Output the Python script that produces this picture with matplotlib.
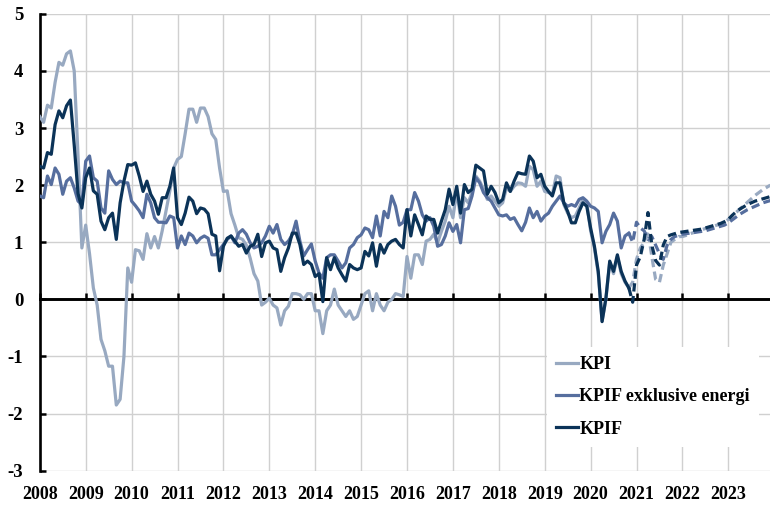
import numpy as np
import matplotlib
matplotlib.use("Agg")
import matplotlib.pyplot as plt

# --- data: annual % change, monthly from Jan 2008 ---
start_year = 2008

kpi = [
    3.2, 3.1, 3.4, 3.35, 3.8, 4.15, 4.1, 4.3, 4.35, 4.0, 2.5, 0.9,
    1.3, 0.8, 0.2, -0.1, -0.7, -0.9, -1.17, -1.17, -1.85, -1.75, -1.0, 0.55,
    0.3, 0.87, 0.85, 0.7, 1.15, 0.9, 1.1, 0.9, 1.2, 1.55, 1.9, 2.3,
    2.45, 2.5, 2.9, 3.33, 3.33, 3.1, 3.35, 3.35, 3.2, 2.9, 2.8, 2.3,
    1.89, 1.9, 1.5, 1.3, 1.08, 1.05, 0.95, 0.72, 0.45, 0.32, -0.1, -0.05,
    0.02, -0.1, -0.15, -0.45, -0.2, -0.12, 0.1, 0.1, 0.08, 0.0, 0.1, 0.1,
    -0.2, -0.2, -0.6, -0.2, -0.1, 0.18, -0.1, -0.2, -0.3, -0.2, -0.35, -0.3,
    -0.1, 0.1, 0.15, -0.2, 0.1, -0.1, -0.2, -0.05, 0.0, 0.1, 0.08, 0.05,
    0.75, 0.37, 0.78, 0.78, 0.61, 1.02, 1.05, 1.14, 0.99, 1.19, 1.37, 1.63,
    1.43, 1.89, 1.43, 1.78, 1.69, 1.87, 2.16, 2.07, 1.93, 1.75, 1.81, 1.72,
    1.63, 1.69, 1.95, 1.89, 1.98, 2.04, 2.03, 1.98, 2.33, 2.27, 1.98, 2.07,
    1.89, 1.87, 1.84, 2.16, 2.13, 1.66, 1.51, 1.43, 1.46, 1.6, 1.75, 1.69,
    1.2, 0.9, 0.45, -0.38, 0.0, 0.65, 0.45, 0.75, 0.45, 0.3, 0.2,
]
kpif_exkl = [
    1.81, 1.78, 2.16, 2.01, 2.3, 2.19, 1.84, 2.07, 2.13, 1.95, 1.72, 1.66,
    2.42, 2.51, 2.13, 2.07, 1.6, 1.51, 2.25, 2.1, 2.01, 2.07, 2.04, 2.04,
    1.72, 1.64, 1.55, 1.43, 1.84, 1.69, 1.43, 1.35, 1.35, 1.34, 1.46, 1.43,
    0.9, 1.11, 0.96, 1.16, 1.11, 0.99, 1.07, 1.11, 1.07, 0.78, 0.78, 0.87,
    0.96, 1.05, 1.11, 0.99, 1.16, 1.22, 1.14, 0.99, 0.9, 0.93, 0.99, 1.11,
    1.28, 1.16, 1.31, 1.05, 0.96, 1.02, 1.13, 1.37, 1.02, 0.76, 0.87, 0.97,
    0.67, 0.46, 0.37, 0.73, 0.78, 0.78, 0.67, 0.55, 0.64, 0.9, 0.96, 1.08,
    1.13, 1.25, 1.22, 1.08, 1.46, 1.11, 1.54, 1.43, 1.81, 1.63, 1.3, 1.35,
    1.57, 1.57, 1.87, 1.72, 1.48, 1.37, 1.43, 1.28, 0.93, 0.96, 1.11, 1.34,
    1.19, 1.31, 0.99, 1.57, 1.59, 1.81, 2.13, 2.04, 1.87, 1.78, 1.72, 1.6,
    1.48, 1.46, 1.48, 1.4, 1.43, 1.31, 1.2, 1.35, 1.6, 1.43, 1.54, 1.37,
    1.46, 1.51, 1.63, 1.72, 1.81, 1.69, 1.63, 1.66, 1.63, 1.75, 1.78, 1.72,
    1.63, 1.6, 1.54, 0.99, 1.19, 1.31, 1.51, 1.37, 0.9, 1.11, 1.16,
]
kpif = [
    2.33, 2.3, 2.57, 2.54, 3.06, 3.3, 3.18, 3.39, 3.49, 2.7, 1.85, 1.6,
    2.13, 2.3, 1.9, 1.84, 1.37, 1.22, 1.43, 1.51, 1.05, 1.69, 2.07, 2.36,
    2.35, 2.39, 2.16, 1.89, 2.07, 1.84, 1.72, 1.49, 1.78, 1.78, 1.98, 2.3,
    1.43, 1.31, 1.51, 1.79, 1.72, 1.5, 1.6, 1.58, 1.5, 1.14, 1.11, 0.5,
    0.93, 1.07, 1.11, 1.02, 0.93, 0.96, 0.81, 0.93, 0.96, 1.14, 0.75, 0.99,
    1.02, 0.9, 0.87, 0.49, 0.73, 0.9, 1.16, 1.16, 0.96, 0.61, 0.67, 0.61,
    0.4, 0.45, -0.04, 0.73, 0.52, 0.73, 0.55, 0.43, 0.32, 0.61, 0.55, 0.52,
    0.55, 0.84, 0.76, 0.99, 0.58, 0.96, 0.81, 0.96, 1.02, 1.05, 0.96, 0.9,
    1.57, 1.11, 1.48, 1.31, 1.13, 1.46, 1.4, 1.4, 1.16, 1.37, 1.57, 1.93,
    1.66, 1.98, 1.51, 2.01, 1.87, 1.93, 2.35, 2.3, 2.25, 1.84, 1.98, 1.87,
    1.69, 1.75, 2.04, 1.89, 2.07, 2.22, 2.2, 2.19, 2.51, 2.42, 2.13, 2.19,
    1.98, 1.89, 1.81, 2.04, 2.04, 1.69, 1.54, 1.34, 1.34, 1.54, 1.69, 1.63,
    1.25, 0.93, 0.49, -0.39, 0.02, 0.67, 0.49, 0.78, 0.49, 0.32, 0.2,
]

# forecasts (dashed), Nov 2020 - Dec 2023, first value = last outcome
kpi_fc = [
    0.2, 0.3, 0.7, 0.9, 1.0, 1.2, 0.75, 0.35, 0.3, 0.6, 0.8, 1.0, 1.05, 1.1,
    1.1, 1.12, 1.15, 1.17, 1.2, 1.22, 1.24, 1.26, 1.28, 1.3, 1.32, 1.35,
    1.4, 1.46, 1.52, 1.58, 1.64, 1.7, 1.76, 1.82, 1.87, 1.92, 1.96, 2.0,
]
kpif_exkl_fc = [
    1.16, 1.0, 1.35, 1.25, 1.2, 1.05, 1.1, 0.95, 0.8, 0.7, 0.95, 1.05, 1.1, 1.12,
    1.14, 1.15, 1.16, 1.17, 1.18, 1.19, 1.2, 1.22, 1.24, 1.26, 1.28, 1.3,
    1.34, 1.39, 1.44, 1.49, 1.53, 1.57, 1.6, 1.63, 1.66, 1.69, 1.71, 1.73,
]
kpif_fc = [
    0.2, -0.05, 0.6, 0.75, 1.05, 1.52, 0.95, 0.68, 0.6, 0.95, 1.1, 1.13, 1.15, 1.17,
    1.18, 1.19, 1.2, 1.21, 1.22, 1.23, 1.25, 1.27, 1.29, 1.31, 1.33, 1.36,
    1.4, 1.47, 1.53, 1.58, 1.62, 1.66, 1.69, 1.72, 1.74, 1.76, 1.78, 1.8,
]

labels = ["KPI", "KPIF exklusive energi", "KPIF"]
years = list(range(2008, 2024))
yticks = list(range(-3, 6))

# colours
c_kpi = "#98a9c1"
c_exkl = "#566e9e"
c_kpif = "#0b3358"

plt.rcParams["font.family"] = ["Liberation Serif", "DejaVu Serif"]
plt.rcParams["font.weight"] = "bold"
plt.rcParams["axes.unicode_minus"] = False

fig = plt.figure(figsize=(7.70, 5.05), dpi=100)
ax = fig.add_axes([39.8 / 770, 34.3 / 505, 734.4 / 770, 456.9 / 505])

n_out = len(kpi)
x_out = start_year + np.arange(n_out) / 12
x_fc = start_year + (n_out - 1 + np.arange(len(kpi_fc))) / 12

lw = 2.3
dash = (2.6, 1.4)
series = [(kpi, kpi_fc, c_kpi), (kpif_exkl, kpif_exkl_fc, c_exkl), (kpif, kpif_fc, c_kpif)]
for (out, fc, col), lab in zip(series, labels):
    ax.plot(x_out, out, color=col, lw=lw, label=lab, zorder=3)
    ax.plot(x_fc, fc, color=col, lw=lw, dashes=dash, zorder=3)

ax.set_xlim(2008, 2024)
ax.set_ylim(-3, 5)
ax.set_xticks(years)
ax.set_yticks(yticks)
ax.set_axisbelow(True)
ax.grid(True, color="#d0d0d0", lw=1.0)

for s in ("top", "right"):
    ax.spines[s].set_visible(False)
ax.spines["left"].set_linewidth(1.9)
ax.spines["bottom"].set_position(("data", 0))
ax.spines["bottom"].set_linewidth(2.1)
ax.spines["bottom"].set_zorder(2.6)

ax.tick_params(axis="y", direction="in", length=4, width=1.8, pad=12, labelsize=13.5)
ax.tick_params(axis="x", direction="in", length=4, width=1.8, labelbottom=False)

# year labels sit at the bottom of the plot, ticks stay on the zero line
sec = ax.secondary_xaxis("bottom")
sec.set_xticks(years)
sec.tick_params(length=0, pad=11, labelsize=13)
sec.spines["bottom"].set_visible(False)

for t in ax.get_yticklabels() + sec.get_xticklabels():
    t.set_fontweight("bold")

# legend box in lower right
bx = (547 - 39.8) / 734.4
by = (505 - 347 - 34.3) / 456.9
leg = ax.legend(loc="upper left", bbox_to_anchor=(bx, by), borderaxespad=0,
                frameon=True, fancybox=False, edgecolor="none", facecolor="white",
                framealpha=1.0, prop={"family": "Liberation Serif", "weight": "bold", "size": 13},
                handlelength=1.2, handletextpad=0.1, labelspacing=0.85, borderpad=0.5)
leg.set_zorder(5)

fig.savefig("out.png", dpi=100)
